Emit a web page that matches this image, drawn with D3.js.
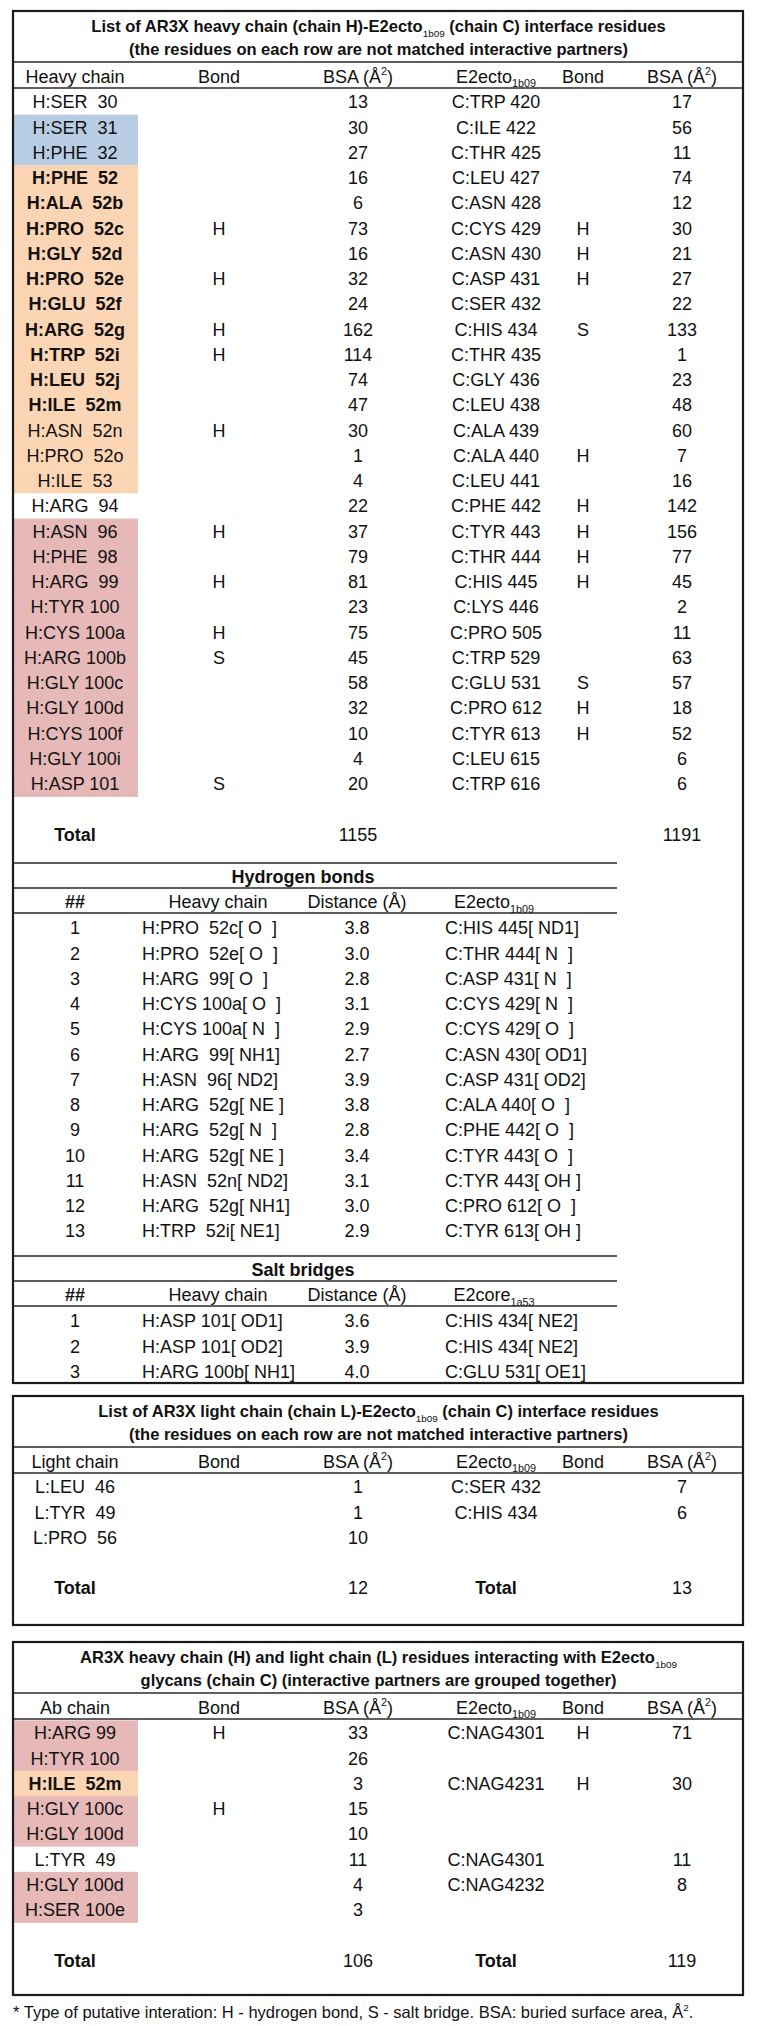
<!DOCTYPE html>
<html>
<head>
<meta charset="utf-8">
<script src="https://cdn.jsdelivr.net/npm/d3@7"></script>
<style>
  html, body { margin: 0; padding: 0; background: #fff; }
  svg text { font-family: "Liberation Sans", Arial, Helvetica, sans-serif; fill: #111; white-space: pre; }
</style>
</head>
<body>
<svg id="chart" width="758" height="2026"></svg>
<script>
// ---------------- DATA ----------------
// Heavy chain interface residues (table 1, left part)
const heavyResidues = ["H:SER  30","H:SER  31","H:PHE  32","H:PHE  52","H:ALA  52b","H:PRO  52c","H:GLY  52d","H:PRO  52e","H:GLU  52f","H:ARG  52g","H:TRP  52i","H:LEU  52j","H:ILE  52m","H:ASN  52n","H:PRO  52o","H:ILE  53","H:ARG  94","H:ASN  96","H:PHE  98","H:ARG  99","H:TYR 100","H:CYS 100a","H:ARG 100b","H:GLY 100c","H:GLY 100d","H:CYS 100f","H:GLY 100i","H:ASP 101"];
const heavyRegion   = ["", "CDR1","CDR1","CDR2","CDR2","CDR2","CDR2","CDR2","CDR2","CDR2","CDR2","CDR2","CDR2","CDR2","CDR2","CDR2","", "CDR3","CDR3","CDR3","CDR3","CDR3","CDR3","CDR3","CDR3","CDR3","CDR3","CDR3"];
const heavyKey      = [0,0,0,1,1,1,1,1,1,1,1,1,1,0,0,0,0,0,0,0,0,0,0,0,0,0,0,0];
const heavyBonds    = ["","","","","","H","","H","","H","H","","","H","","","","H","","H","","H","S","","","","","S"];
const heavyBSA      = [13,30,27,16,6,73,16,32,24,162,114,74,47,30,1,4,22,37,79,81,23,75,45,58,32,10,4,20];
const heavyTotal    = 1155;
// E2ecto (chain C) partners (table 1, right part)
const e2Residues = ["C:TRP 420","C:ILE 422","C:THR 425","C:LEU 427","C:ASN 428","C:CYS 429","C:ASN 430","C:ASP 431","C:SER 432","C:HIS 434","C:THR 435","C:GLY 436","C:LEU 438","C:ALA 439","C:ALA 440","C:LEU 441","C:PHE 442","C:TYR 443","C:THR 444","C:HIS 445","C:LYS 446","C:PRO 505","C:TRP 529","C:GLU 531","C:PRO 612","C:TYR 613","C:LEU 615","C:TRP 616"];
const e2Bonds    = ["","","","","","H","H","H","","S","","","","","H","","H","H","H","H","","","","S","H","H","",""];
const e2BSA      = [17,56,11,74,12,30,21,27,22,133,1,23,48,60,7,16,142,156,77,45,2,11,63,57,18,52,6,6];
const e2Total    = 1191;
// Hydrogen bonds
const hbIndex = [1,2,3,4,5,6,7,8,9,10,11,12,13];
const hbHeavy = ["H:PRO  52c[ O  ]","H:PRO  52e[ O  ]","H:ARG  99[ O  ]","H:CYS 100a[ O  ]","H:CYS 100a[ N  ]","H:ARG  99[ NH1]","H:ASN  96[ ND2]","H:ARG  52g[ NE ]","H:ARG  52g[ N  ]","H:ARG  52g[ NE ]","H:ASN  52n[ ND2]","H:ARG  52g[ NH1]","H:TRP  52i[ NE1]"];
const hbDist  = ["3.8","3.0","2.8","3.1","2.9","2.7","3.9","3.8","2.8","3.4","3.1","3.0","2.9"];
const hbE2    = ["C:HIS 445[ ND1]","C:THR 444[ N  ]","C:ASP 431[ N  ]","C:CYS 429[ N  ]","C:CYS 429[ O  ]","C:ASN 430[ OD1]","C:ASP 431[ OD2]","C:ALA 440[ O  ]","C:PHE 442[ O  ]","C:TYR 443[ O  ]","C:TYR 443[ OH ]","C:PRO 612[ O  ]","C:TYR 613[ OH ]"];
// Salt bridges
const sbIndex = [1,2,3];
const sbHeavy = ["H:ASP 101[ OD1]","H:ASP 101[ OD2]","H:ARG 100b[ NH1]"];
const sbDist  = ["3.6","3.9","4.0"];
const sbE2    = ["C:HIS 434[ NE2]","C:HIS 434[ NE2]","C:GLU 531[ OE1]"];
// Light chain interface residues
const lightResidues = ["L:LEU  46","L:TYR  49","L:PRO  56"];
const lightBSA      = [1,1,10];
const lightTotal    = 12;
const lightE2       = ["C:SER 432","C:HIS 434"];
const lightE2BSA    = [7,6];
const lightE2Total  = 13;
// Glycan-interacting residues
const glyAb       = ["H:ARG 99","H:TYR 100","H:ILE  52m","H:GLY 100c","H:GLY 100d","L:TYR  49","H:GLY 100d","H:SER 100e"];
const glyAbRegion = ["CDR3","CDR3","CDR2","CDR3","CDR3","","CDR3","CDR3"];
const glyAbKey    = [0,0,1,0,0,0,0,0];
const glyAbBond   = ["H","","","H","","","",""];
const glyAbBSA    = [33,26,3,15,10,11,4,3];
const glyAbTotal  = 106;
const glyE2       = ["C:NAG4301","","C:NAG4231","","","C:NAG4301","C:NAG4232",""];
const glyE2Bond   = ["H","","H","","","","",""];
const glyE2BSA    = [71,"",30,"","",11,8,""];
const glyE2Total  = 119;

// ---------------- LAYOUT / STYLE ----------------
const svg = d3.select("#chart");
const W = 758;
const boxL = 13, boxR = 743;
const FS = 18;           // body font size
const TFS = 16.5;        // title font size
const ROWH = 25.25;
const regionColor = d3.scaleOrdinal().domain(["", "CDR1", "CDR2", "CDR3"])
  .range(["#ffffff", "#b8cce4", "#fcd5b4", "#e6b8b7"]);
const col = d3.scaleOrdinal()
  .domain(["res", "bond", "bsa", "e2", "bond2", "bsa2"])
  .range([75, 219, 358, 496, 583, 682]);
const hbCol = d3.scaleOrdinal()
  .domain(["num", "heavyHead", "heavy", "dist", "e2Head", "e2"])
  .range([75, 218, 142, 357, 494, 445]);

svg.append("rect").attr("width", W).attr("height", 2026).attr("fill", "#fff");

// rich text helper: parts are strings or {sub:..} / {sup:..}
function rich(sel, parts, size) {
  let shift = 0;
  parts.forEach(p => {
    const t = sel.append("tspan");
    if (typeof p === "string") {
      t.text(p);
      if (shift) { t.attr("dy", -shift); shift = 0; }
    } else if (p.sub !== undefined) {
      const d = size * 0.25;
      t.text(p.sub).attr("font-size", size * 0.6).attr("font-weight", "normal").attr("dy", d - shift);
      shift = d;
    } else if (p.sup !== undefined) {
      const d = -size * 0.42;
      t.text(p.sup).attr("font-size", size * 0.6).attr("dy", d - shift);
      shift = d;
    }
  });
  return sel;
}

function label(g, x, y, parts, opts = {}) {
  const size = opts.size || FS;
  const t = g.append("text")
    .attr("x", x).attr("y", y)
    .attr("dy", "0.36em")
    .attr("font-size", size)
    .attr("text-anchor", opts.anchor || "middle")
    .attr("font-weight", opts.bold ? "bold" : "normal");
  rich(t, Array.isArray(parts) ? parts : [String(parts)], size);
  return t;
}

function hline(g, y, x1, x2, w) {
  g.append("line").attr("x1", x1).attr("x2", x2).attr("y1", y).attr("y2", y)
    .attr("stroke", "#2a2a2a").attr("stroke-width", w || 1.6);
}

const BSA_HEAD = ["BSA (Å", {sup: "2"}, ")"];
const E2_HEAD = ["E2ecto", {sub: "1b09"}];

// Draw an interface box: title, header, columns of rows
function interfaceBox(top, bottom, title1, title2, firstHead, left, right, totalRow, totalLabels) {
  const g = svg.append("g");
  const y = d3.scaleLinear().domain([0, 1]).range([top + 91, top + 91 + ROWH]);
  // coloured residue cells
  g.selectAll("rect.cell").data(left.res).join("rect")
    .attr("x", boxL).attr("width", 138 - boxL)
    .attr("y", (d, i) => y(i) - ROWH / 2).attr("height", ROWH + 0.5)
    .attr("fill", (d, i) => regionColor(left.region[i]));
  // titles
  label(g, (boxL + boxR) / 2 + 0.5, top + 15.5, title1, {bold: true, size: TFS});
  label(g, (boxL + boxR) / 2 + 0.5, top + 38.5, title2, {bold: true, size: TFS});
  hline(g, top + 51, boxL, boxR);
  // header
  const hy = top + 65.5;
  label(g, col("res"), hy, firstHead);
  label(g, col("bond"), hy, "Bond");
  label(g, col("bsa"), hy, BSA_HEAD);
  label(g, col("e2"), hy, E2_HEAD);
  label(g, col("bond2"), hy, "Bond");
  label(g, col("bsa2"), hy, BSA_HEAD);
  hline(g, top + 77, boxL, boxR);
  // rows
  left.res.forEach((d, i) => {
    label(g, col("res"), y(i), d, {bold: left.key[i] === 1});
    if (left.bond[i]) label(g, col("bond"), y(i), left.bond[i]);
    if (left.bsa[i] !== "") label(g, col("bsa"), y(i), left.bsa[i]);
  });
  right.res.forEach((d, i) => {
    if (d) label(g, col("e2"), y(i), d);
    if (right.bond[i]) label(g, col("bond2"), y(i), right.bond[i]);
    if (right.bsa[i] !== "" && right.bsa[i] !== undefined) label(g, col("bsa2"), y(i), right.bsa[i]);
  });
  // totals
  const ty = y(totalRow);
  label(g, col("res"), ty, "Total", {bold: true});
  label(g, col("bsa"), ty, totalLabels[0]);
  if (totalLabels[2]) label(g, col("e2"), ty, "Total", {bold: true});
  label(g, col("bsa2"), ty, totalLabels[1]);
  // border
  g.append("rect").attr("x", boxL).attr("y", top).attr("width", boxR - boxL).attr("height", bottom - top)
    .attr("fill", "none").attr("stroke", "#1a1a1a").attr("stroke-width", 2.2);
  return g;
}

// ---- Box 1 ----
const box1 = interfaceBox(11, 1383,
  ["List of AR3X heavy chain (chain H)-E2ecto", {sub: "1b09"}, " (chain C) interface residues"],
  "(the residues on each row are not matched interactive partners)",
  "Heavy chain",
  {res: heavyResidues, region: heavyRegion, key: heavyKey, bond: heavyBonds, bsa: heavyBSA},
  {res: e2Residues, bond: e2Bonds, bsa: e2BSA},
  heavyResidues.length + 1, [heavyTotal, e2Total, false]);

// Sub tables: hydrogen bonds & salt bridges
function bondTable(g, top, title, e2Head, idx, heavy, dist, e2) {
  const xR = 617;
  hline(g, top, boxL, xR);
  label(g, 303, top + 13.5, title, {bold: true});
  hline(g, top + 25, boxL, xR);
  label(g, hbCol("num"), top + 39, "##", {bold: true});
  label(g, hbCol("heavyHead"), top + 39, "Heavy chain");
  label(g, hbCol("dist"), top + 39, "Distance (Å)");
  label(g, hbCol("e2Head"), top + 39, e2Head);
  hline(g, top + 50, boxL, xR);
  const y = d3.scaleLinear().domain([0, 1]).range([top + 65, top + 65 + ROWH]);
  idx.forEach((n, i) => {
    label(g, hbCol("num"), y(i), n);
    label(g, hbCol("heavy"), y(i), heavy[i], {anchor: "start"});
    label(g, hbCol("dist"), y(i), dist[i]);
    label(g, hbCol("e2"), y(i), e2[i], {anchor: "start"});
  });
}
bondTable(box1, 863, "Hydrogen bonds", E2_HEAD, hbIndex, hbHeavy, hbDist, hbE2);
bondTable(box1, 1256, "Salt bridges", ["E2core", {sub: "1a53"}], sbIndex, sbHeavy, sbDist, sbE2);

// ---- Box 2 ----
interfaceBox(1396, 1625,
  ["List of AR3X light chain (chain L)-E2ecto", {sub: "1b09"}, " (chain C) interface residues"],
  "(the residues on each row are not matched interactive partners)",
  "Light chain",
  {res: lightResidues, region: lightResidues.map(() => ""), key: lightResidues.map(() => 0), bond: lightResidues.map(() => ""), bsa: lightBSA},
  {res: lightE2, bond: lightE2.map(() => ""), bsa: lightE2BSA},
  lightResidues.length + 1, [lightTotal, lightE2Total, true]);

// ---- Box 3 ----
interfaceBox(1642, 1995,
  ["AR3X heavy chain (H) and light chain (L) residues interacting with E2ecto", {sub: "1b09"}],
  "glycans (chain C) (interactive partners are grouped together)",
  "Ab chain",
  {res: glyAb, region: glyAbRegion, key: glyAbKey, bond: glyAbBond, bsa: glyAbBSA},
  {res: glyE2, bond: glyE2Bond, bsa: glyE2BSA},
  glyAb.length + 1, [glyAbTotal, glyE2Total, true]);

// footnote
label(svg, boxL, 2012, ["* Type of putative interation: H - hydrogen bond, S - salt bridge. BSA: buried surface area, Å", {sup: "2"}, "."], {anchor: "start", size: 16.5});
</script>
</body>
</html>
